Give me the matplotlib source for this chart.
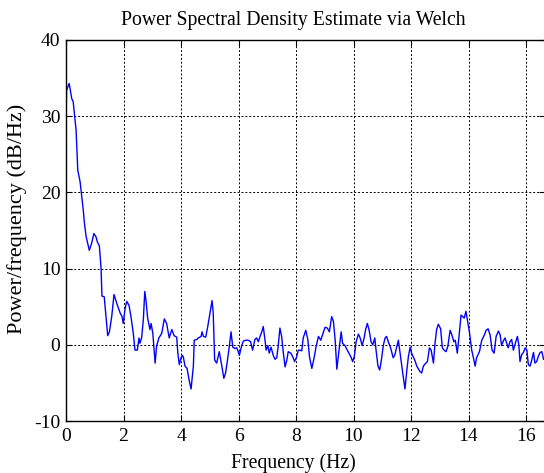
import matplotlib
matplotlib.use("Agg")
import matplotlib.pyplot as plt

freq_hz = [0.00, 0.02, 0.11, 0.20, 0.25, 0.35, 0.41, 0.49, 0.55, 0.60, 0.64, 0.70,
           0.81, 0.89, 0.97, 1.04, 1.10, 1.16, 1.22, 1.25, 1.33, 1.38, 1.45, 1.51,
           1.59, 1.67, 1.76, 1.88, 1.95, 1.99, 2.05, 2.11, 2.19, 2.26, 2.34, 2.40,
           2.48, 2.54, 2.57, 2.63, 2.69, 2.74, 2.78, 2.84, 2.92, 2.96, 3.02, 3.10,
           3.15, 3.23, 3.33, 3.42, 3.50, 3.59, 3.68, 3.76, 3.85, 3.89, 3.94, 4.00,
           4.05, 4.08, 4.14, 4.21, 4.28, 4.35, 4.43, 4.46, 4.55, 4.60, 4.70, 4.73,
           4.78, 4.86, 4.93, 5.01, 5.08, 5.12, 5.17, 5.24, 5.33, 5.42, 5.49, 5.55,
           5.61, 5.68, 5.74, 5.80, 5.88, 5.94, 5.99, 6.03, 6.11, 6.17, 6.26, 6.34,
           6.42, 6.49, 6.57, 6.63, 6.69, 6.75, 6.81, 6.86, 6.92, 6.96, 7.02, 7.07,
           7.13, 7.21, 7.27, 7.33, 7.38, 7.44, 7.50, 7.56, 7.62, 7.68, 7.73, 7.82,
           7.89, 7.95, 8.02, 8.08, 8.14, 8.20, 8.25, 8.34, 8.41, 8.47, 8.55, 8.63,
           8.70, 8.78, 8.86, 8.93, 9.01, 9.09, 9.16, 9.24, 9.30, 9.36, 9.42, 9.51,
           9.57, 9.62, 9.70, 9.84, 9.91, 9.97, 10.03, 10.09, 10.17, 10.23, 10.30, 10.37,
           10.42, 10.48, 10.54, 10.61, 10.67, 10.74, 10.79, 10.85, 10.91, 10.97, 11.04, 11.10,
           11.15, 11.21, 11.29, 11.38, 11.44, 11.50, 11.56, 11.62, 11.68, 11.73, 11.79, 11.85,
           11.91, 11.97, 12.02, 12.08, 12.14, 12.20, 12.31, 12.37, 12.43, 12.49, 12.57, 12.64,
           12.70, 12.78, 12.83, 12.89, 12.95, 13.03, 13.09, 13.15, 13.22, 13.28, 13.36, 13.43,
           13.49, 13.54, 13.61, 13.68, 13.74, 13.80, 13.85, 13.91, 13.96, 14.03, 14.11, 14.17,
           14.23, 14.28, 14.38, 14.46, 14.54, 14.61, 14.68, 14.75, 14.82, 14.89, 14.96, 15.04,
           15.10, 15.15, 15.21, 15.27, 15.33, 15.38, 15.44, 15.50, 15.56, 15.62, 15.70, 15.75,
           15.79, 15.85, 15.91, 15.97, 16.03, 16.08, 16.14, 16.20, 16.26, 16.31, 16.37, 16.43,
           16.49, 16.55, 16.61]

psd_db = [29.1, 33.4, 34.3, 32.3, 31.9, 28.2, 22.9, 21.4, 19.4, 17.7, 16.0, 14.2,
          12.4, 13.3, 14.6, 14.2, 13.4, 13.0, 10.0, 6.4, 6.3, 4.2, 1.2, 1.7,
          3.7, 6.6, 5.5, 4.2, 3.7, 2.8, 4.6, 5.7, 5.2, 3.7, 1.5, -0.7,
          -0.7, 0.9, 0.2, 0.9, 3.3, 7.0, 5.9, 3.5, 2.0, 2.8, 1.5, -2.4,
          -0.2, 0.9, 1.5, 3.4, 2.8, 0.9, 2.0, 1.2, 1.0, -1.1, -2.6, -1.7,
          -1.4, -1.6, -2.8, -3.1, -4.6, -5.8, -2.8, 0.6, 0.7, 0.9, 1.1, 1.7,
          1.1, 1.0, 2.4, 4.2, 5.8, 4.2, -2.0, -2.4, -0.9, -2.8, -4.4, -3.7,
          -2.2, -0.2, 1.7, -0.3, -0.5, -0.4, -0.9, -1.4, -0.1, 0.5, 0.6, 0.6,
          0.4, -0.7, 0.7, 0.9, 0.4, 1.1, 1.7, 2.4, 0.7, -0.7, -0.1, -1.1,
          -0.3, -1.4, -1.9, -1.7, -0.2, 2.2, 1.1, -1.1, -2.9, -2.0, -0.9, -1.1,
          -1.6, -2.2, -1.6, -0.7, -0.7, -0.8, 0.9, 1.9, 0.7, -1.6, -3.1, -1.7,
          -0.2, 1.1, 0.6, 1.4, 2.3, 2.2, 1.7, 3.7, 3.1, 0.7, -3.2, -0.2,
          1.7, 0.2, -0.1, -1.1, -1.6, -2.2, -1.5, 0.4, 1.4, 0.9, -0.1, 0.9,
          2.0, 2.8, 2.0, 0.4, 0.0, 0.9, -0.9, -2.8, -3.3, -2.0, 0.0, 0.9,
          1.1, 0.4, -0.4, -1.7, -1.3, -0.3, 0.6, -1.1, -2.8, -4.2, -5.8, -3.5,
          -1.5, -0.3, -1.1, -1.6, -2.1, -2.8, -3.5, -3.7, -2.8, -2.5, -2.2, -0.4,
          -0.7, -2.4, 0.0, 2.0, 2.7, 2.1, -0.4, -0.7, -0.9, -0.2, 1.9, 1.2,
          0.4, 0.6, -1.1, 1.5, 3.9, 3.7, 3.5, 4.4, 3.3, 1.7, -0.7, -1.7,
          -2.8, -1.7, -0.9, 0.6, 1.2, 1.9, 2.1, 1.3, -0.7, -1.1, 1.1, 1.8,
          1.3, -0.1, 0.5, 0.9, 0.2, -0.4, 0.4, 0.7, -0.7, 0.1, 1.1, 0.0,
          -2.2, -1.3, -1.0, -0.4, -0.7, -2.6, -2.8, -2.0, -1.0, -2.4, -2.2, -1.5,
          -1.0, -0.9, -1.9]

x_ticks = [0, 2, 4, 6, 8, 10, 12, 14, 16]
y_ticks = [-10, 0, 10, 20, 30, 40]

plt.rcParams['font.family'] = ['Liberation Serif', 'DejaVu Serif']
plt.rcParams['axes.unicode_minus'] = False
W, H = 544, 473
fig = plt.figure(figsize=(W / 100, H / 100), dpi=100)
left_px, right_px, top_px, bot_px = 66, 545, 40, 421
ax = fig.add_axes([left_px / W, 1 - bot_px / H, (right_px - left_px) / W, (bot_px - top_px) / H])

ax.plot(freq_hz, psd_db, color='#0000ff', linewidth=1.0)
ax.set_xlim(0, 16.66)
ax.set_ylim(-10, 40)
ax.set_xticks(x_ticks)
ax.set_yticks(y_ticks)
ax.tick_params(direction='in', length=4, width=0.8, labelsize=14, top=True, right=True)
ax.tick_params(axis='x', pad=5)
ax.tick_params(axis='y', pad=4)
ax.grid(True, color='black', linestyle=(0, (2, 2)), linewidth=0.7)
for s in ax.spines.values():
    s.set_linewidth(1.0)

cx = (293 - left_px) / (right_px - left_px)
ax.set_title('Power Spectral Density Estimate via Welch', fontsize=14.2, x=cx, pad=11)
ax.set_xlabel('Frequency (Hz)', fontsize=14.2)
ax.xaxis.set_label_coords(cx, -0.085)
ax.set_ylabel('Power/frequency (dB/Hz)', fontsize=16)
ax.yaxis.set_label_coords(-0.082, (421 - 219) / (421 - 40))

fig.savefig('out.png', dpi=100)
